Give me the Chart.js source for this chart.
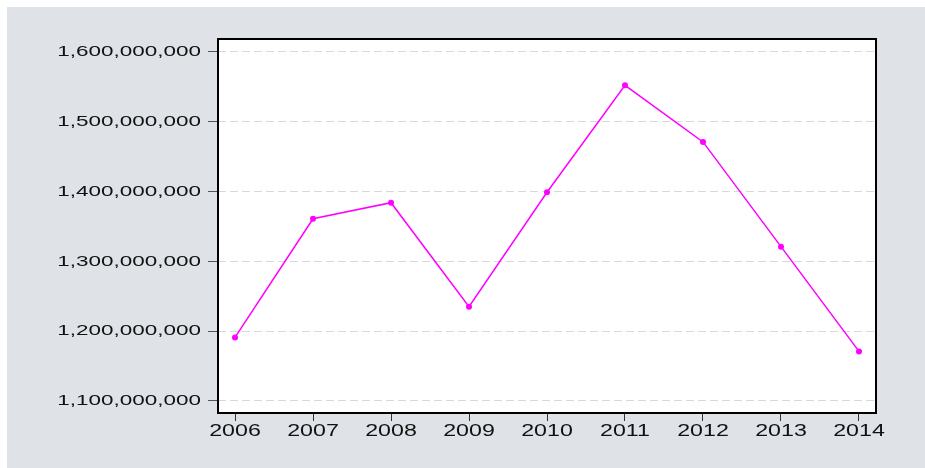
<!DOCTYPE html>
<html>
<head>
<meta charset="utf-8">
<script src="https://cdn.jsdelivr.net/npm/chart.js@4"></script>
<style>
  html, body { margin: 0; padding: 0; background: #ffffff; }
  #wrap {
    position: absolute;
    left: 7px;
    top: 7px;
    width: 918px;
    height: 461px;
    background: #dfe3e8;
  }
</style>
</head>
<body>
<div id="wrap"><canvas id="chart" width="918" height="461"></canvas></div>
<script>
// values
const years = [2006, 2007, 2008, 2009, 2010, 2011, 2012, 2013, 2014];
const values = [1191000000, 1361000000, 1384000000, 1235000000, 1399000000, 1552000000, 1471000000, 1321000000, 1171000000];
const yTicks = [1100000000, 1200000000, 1300000000, 1400000000, 1500000000, 1600000000];

const points = years.map((yr, i) => ({ x: yr, y: values[i] }));

// the original picture is stretched sideways, so the text glyphs are wide too
const TEXT_STRETCH = 1.45;

const framePlugin = {
  id: 'frame',
  afterInit(chart) {
    const ctx = chart.ctx;
    const orig = ctx.fillText.bind(ctx);
    ctx.fillText = function (text, x, y) {
      ctx.save();
      ctx.translate(x, y);
      ctx.scale(TEXT_STRETCH, 1);
      orig(text, 0, 0);
      ctx.restore();
    };
  },
  beforeDraw(chart) {
    // white plot area
    const a = chart.chartArea;
    chart.ctx.save();
    chart.ctx.fillStyle = '#ffffff';
    chart.ctx.fillRect(a.left, a.top, a.right - a.left, a.bottom - a.top);
    chart.ctx.restore();
  },
  afterDraw(chart) {
    // black frame round the plot
    const a = chart.chartArea;
    const ctx = chart.ctx;
    ctx.save();
    ctx.strokeStyle = '#000000';
    ctx.lineWidth = 2;
    ctx.strokeRect(a.left, a.top, a.right - a.left, a.bottom - a.top);
    ctx.restore();
  }
};

new Chart(document.getElementById('chart'), {
  type: 'line',
  data: {
    datasets: [{
      data: points,
      borderColor: '#ff00ff',
      backgroundColor: '#ff00ff',
      borderWidth: 1.5,
      pointRadius: 3,
      pointBorderWidth: 0,
      pointBackgroundColor: '#ff00ff',
      tension: 0,
      clip: false
    }]
  },
  options: {
    responsive: false,
    animation: false,
    devicePixelRatio: 1,
    layout: { padding: { top: 32, right: 49, left: 0, bottom: 0 } },
    plugins: { legend: { display: false }, tooltip: { enabled: false } },
    scales: {
      x: {
        type: 'linear',
        min: 2005.782,
        max: 2014.218,
        afterFit: (s) => { s.height = 55; },
        afterBuildTicks: (s) => { s.ticks = years.map(v => ({ value: v })); },
        border: { display: false },
        grid: {
          drawOnChartArea: false,
          drawTicks: true,
          tickLength: 8,
          tickColor: '#333333',
          tickWidth: 1
        },
        ticks: {
          autoSkip: false,
          maxRotation: 0,
          padding: 1,
          color: '#111111',
          font: { family: '"Liberation Sans", Arial', size: 16 },
          callback: (v) => String(v)
        }
      },
      y: {
        min: 1082800000,
        max: 1618400000,
        afterFit: (s) => { s.width = 211; },
        afterBuildTicks: (s) => { s.ticks = yTicks.map(v => ({ value: v })); },
        border: { display: false, dash: [8, 4] },
        grid: {
          color: '#d9d9d9',
          lineWidth: 1,
          drawTicks: true,
          tickLength: 10,
          tickColor: '#555555',
          tickWidth: 1
        },
        ticks: {
          padding: 7,
          color: '#111111',
          font: { family: '"Liberation Sans", Arial', size: 15.5 },
          callback: (v) => v.toLocaleString('en-US')
        }
      }
    }
  },
  plugins: [framePlugin]
});
</script>
</body>
</html>
